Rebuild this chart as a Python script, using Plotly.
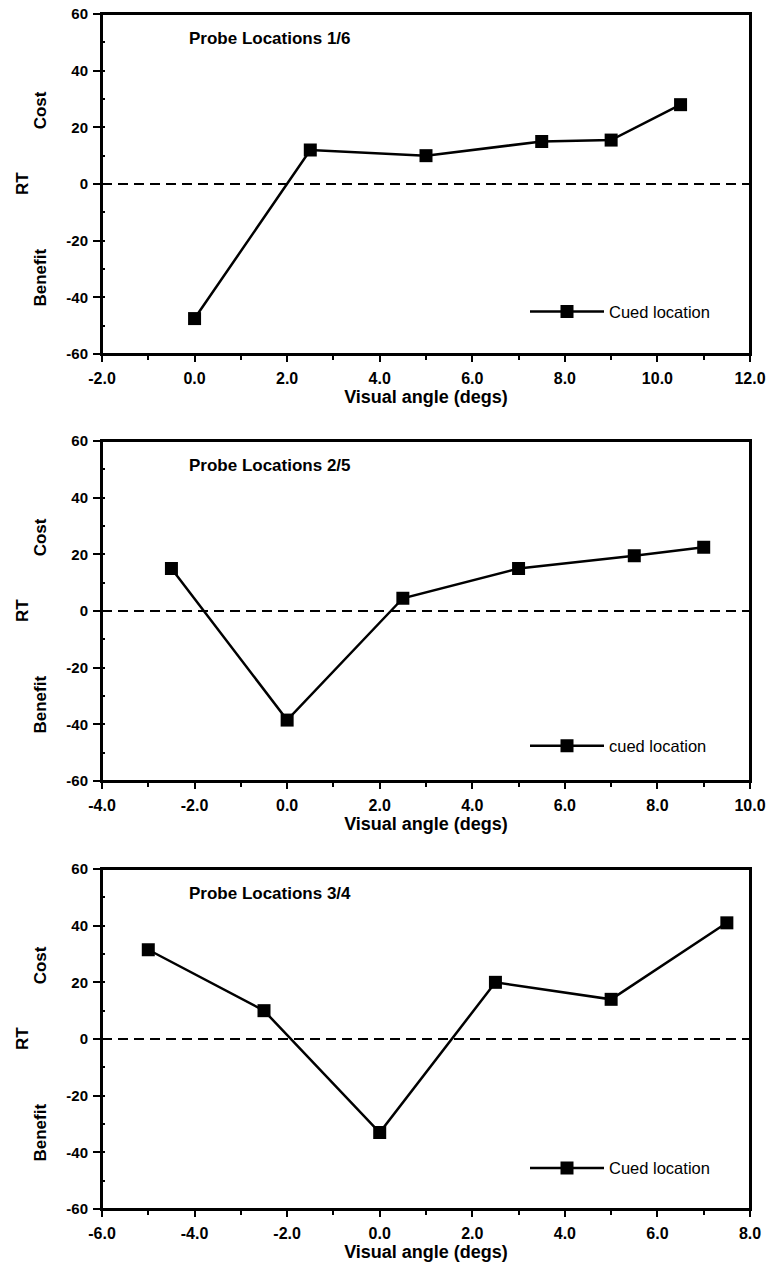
import plotly.graph_objects as go

# ---- data ----
x1 = [0.0, 2.5, 5.0, 7.5, 9.0, 10.5]
y1 = [-47.5, 12.0, 10.0, 15.0, 15.5, 28.0]
x2 = [-2.5, 0.0, 2.5, 5.0, 7.5, 9.0]
y2 = [15.0, -38.5, 4.5, 15.0, 19.5, 22.5]
x3 = [-5.0, -2.5, 0.0, 2.5, 5.0, 7.5]
y3 = [31.5, 10.0, -33.0, 20.0, 14.0, 41.0]
titles = ["Probe Locations 1/6", "Probe Locations 2/5", "Probe Locations 3/4"]
legend_names = ["Cued location", "cued location", "Cued location"]
xticks1 = [-2.0, 0.0, 2.0, 4.0, 6.0, 8.0, 10.0, 12.0]
xticks2 = [-4.0, -2.0, 0.0, 2.0, 4.0, 6.0, 8.0, 10.0]
xticks3 = [-6.0, -4.0, -2.0, 0.0, 2.0, 4.0, 6.0, 8.0]
yticks = [-60, -40, -20, 0, 20, 40, 60]
ylabel_parts = ["Cost", "RT", "Benefit"]

FONT = "Liberation Sans, Arial, Helvetica, sans-serif"

def bold(size):
    return dict(family=FONT, size=size, color="black", weight="bold")

W, H = 774, 1263
mt, mb = 14, 54
ml, mr = 102, 24
pw = W - ml - mr
ph = H - mt - mb
panel_h = 340
tops = [0, 427, 855]
domains = [[1 - (t + panel_h) / ph, 1 - t / ph] for t in tops]
legend_frac = [0.124, 0.103, 0.12]

fig = go.Figure()
series = [(x1, y1), (x2, y2), (x3, y3)]
xtick_sets = [xticks1, xticks2, xticks3]
for i, (xs, ys) in enumerate(series):
    k = "" if i == 0 else str(i + 1)
    fig.add_trace(go.Scatter(
        x=xs, y=ys, mode="lines+markers", name=legend_names[i],
        xaxis="x" + k, yaxis="y" + k, legend="legend" + k,
        line=dict(color="black", width=2.5),
        marker=dict(symbol="square", size=13, color="black"),
        showlegend=True,
    ))
    xt = xtick_sets[i]
    ax = dict(
        range=[xt[0], xt[-1]], tickmode="array", tickvals=xt,
        ticktext=[f"{v:.1f}" for v in xt],
        showline=True, linecolor="black", linewidth=2, mirror=True,
        ticks="outside", ticklen=6, tickwidth=2, tickcolor="black",
        minor=dict(dtick=1.0, ticks="outside", ticklen=4, tickwidth=2, tickcolor="black"),
        showgrid=False, zeroline=False, tickfont=bold(16), ticklabelstandoff=3,
        ticklabeloverflow="allow",
        title=dict(text="Visual angle (degs)", font=bold(18), standoff=4),
        anchor="y" + k, domain=[0, 1], automargin=False,
    )
    ay = dict(
        range=[yticks[0], yticks[-1]], tickmode="array", tickvals=yticks,
        ticktext=[str(v) for v in yticks],
        showline=True, linecolor="black", linewidth=2, mirror=True,
        ticks="outside", ticklen=7, tickwidth=2, tickcolor="black",
        minor=dict(dtick=10, ticks="inside", ticklen=3, tickwidth=2, tickcolor="black"),
        showgrid=False, zeroline=False, tickfont=bold(15), ticklabelstandoff=2,
        ticklabeloverflow="allow",
        anchor="x" + k, domain=domains[i], automargin=False,
    )
    fig.update_layout(**{"xaxis" + k: ax, "yaxis" + k: ay})
    # panel frame
    fig.add_shape(type="rect", xref="x" + k + " domain", yref="y" + k + " domain",
                  x0=0, x1=1, y0=0, y1=1, layer="above",
                  line=dict(color="black", width=2), fillcolor="rgba(0,0,0,0)")
    # dashed zero line
    fig.add_shape(type="line", xref="x" + k + " domain", yref="y" + k,
                  x0=0, x1=1, y0=0, y1=0,
                  line=dict(color="black", width=2, dash="10px,6px"))
    # panel title
    fig.add_annotation(text=titles[i], xref="x" + k + " domain", yref="y" + k + " domain",
                       x=0.259, y=0.929, xanchor="center", yanchor="middle", showarrow=False,
                       font=bold(17))
    # y-axis label pieces
    for txt, yv, xs_ in zip(ylabel_parts, [26, 0, -33], [-62, -80, -62]):
        fig.add_annotation(text=txt, xref="x" + k + " domain", yref="y" + k,
                           x=0, y=yv, xshift=xs_, textangle=-90, showarrow=False,
                           xanchor="center", yanchor="middle", font=bold(17))
    dom = domains[i]
    fig.update_layout(**{"legend" + k: dict(
        x=(525 - ml) / pw, y=dom[0] + (dom[1] - dom[0]) * legend_frac[i],
        xref="paper", yref="paper",
        xanchor="left", yanchor="middle", bgcolor="rgba(0,0,0,0)", borderwidth=0,
        font=dict(family=FONT, size=16.5, color="black"), itemwidth=74,
    )})

fig.update_layout(
    width=W, height=H,
    margin=dict(l=ml, r=mr, t=mt, b=mb, autoexpand=False),
    paper_bgcolor="white", plot_bgcolor="white",
    showlegend=True,
)
fig.write_html("out.html", config={"displayModeBar": False},
               post_script="document.body.style.margin='0px';document.body.style.overflow='hidden';")
